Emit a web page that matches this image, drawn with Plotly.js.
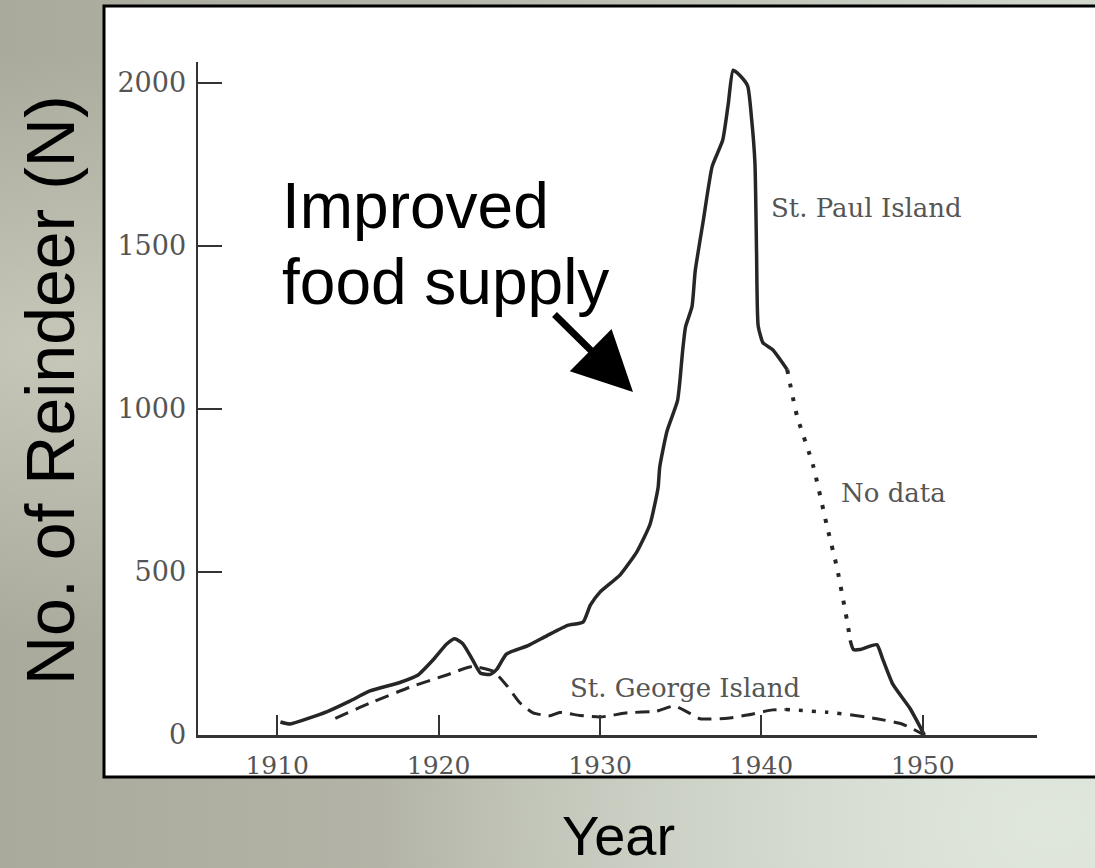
<!DOCTYPE html>
<html>
<head>
<meta charset="utf-8">
<script src="https://cdn.plot.ly/plotly-3.0.1.min.js"></script>
<style>
  html, body { margin: 0; padding: 0; }
  body {
    width: 1095px; height: 868px; overflow: hidden;
    background:
      radial-gradient(ellipse at 95% 95%, rgba(225,232,222,0.9) 0%, rgba(225,232,222,0) 45%),
      radial-gradient(ellipse at 5% 40%, rgba(205,205,192,0.8) 0%, rgba(205,205,192,0) 40%),
      linear-gradient(to right, #a9aa9c 0%, #b3b4a7 35%, #c3c7bb 70%, #d3d9cf 100%);
  }
  #chart { width: 1095px; height: 868px; }
</style>
</head>
<body>
<div id="chart"></div>
<script>
// ---- data ----
const stPaulYears = [1910.2, 1910.8, 1913.1, 1914.5, 1915.75, 1917.6, 1918.7, 1919.65, 1920.5, 1921.0, 1921.5, 1922.1, 1922.6, 1923.2, 1923.6, 1924.2, 1925.5, 1926.7, 1928.0, 1928.95, 1929.4, 1930.0, 1931.25, 1932.3, 1933.1, 1933.6, 1933.7, 1934.15, 1934.8, 1934.95, 1935.1, 1935.3, 1935.7, 1935.9, 1936.4, 1936.95, 1937.6, 1937.95, 1938.25, 1938.7, 1939.15, 1939.4, 1939.6, 1939.7, 1939.8, 1940.1, 1940.7, 1941.6];
const stPaulCounts = [40, 34, 72, 104, 135, 161, 183, 230, 279, 295, 280, 231, 189, 186, 201, 248, 273, 304, 336, 346, 398, 438, 491, 563, 646, 759, 821, 931, 1024, 1085, 1168, 1251, 1313, 1423, 1577, 1743, 1823, 1936, 2038, 2020, 1989, 1885, 1753, 1478, 1254, 1202, 1181, 1120];

const stPaulNoDataYears = [1941.6, 1942.2, 1943.2, 1944.05, 1944.7, 1945.35, 1945.5];
const stPaulNoDataCounts = [1120, 979, 827, 643, 509, 338, 290];

const stPaulLateYears = [1945.5, 1945.7, 1946.1, 1947.15, 1947.5, 1948.15, 1949.2, 1950.1];
const stPaulLateCounts = [290, 262, 262, 277, 235, 155, 82, 0];

const stGeorgeYears = [1913.6, 1915.75, 1918.2, 1920.5, 1922.1, 1923.4, 1924.25, 1925.05, 1925.85, 1926.9, 1927.5, 1928.75, 1930.0, 1931.7, 1933.5, 1934.6, 1935.4, 1936.2, 1937.9, 1939.1, 1940.7, 1941.5];
const stGeorgeCounts = [51, 98, 146, 184, 210, 195, 150, 98, 68, 59, 69, 60, 55, 68, 73, 89, 71, 50, 51, 61, 77, 78];

const stGeorgeNoDataYears = [1941.5, 1944.05, 1945.5];
const stGeorgeNoDataCounts = [78, 70, 62];

const stGeorgeLateYears = [1945.5, 1947.15, 1948.75, 1950.1];
const stGeorgeLateCounts = [62, 50, 33, 0];

const xTickYears = [1910, 1920, 1930, 1940, 1950];
const xTickLabels = ["1910", "1920", "1930", "1940", "1950"];
const yTickValues = [0, 500, 1000, 1500, 2000];
const yTickLabels = ["0", "500", "1000", "1500", "2000"];

// ---- layout geometry (pixels) ----
const L = 198, R = 1037, T = 62, B = 735;
const W = R - L, H = B - T;
const px = v => (v - L) / W;
const py = v => (B - v) / H;

const ink = '#262626';
const serif = 'DejaVu Serif, serif';
const sans = 'Liberation Sans, Arial, sans-serif';

function line(x, y, dash, width) {
  return {
    x: x, y: y, type: 'scatter', mode: 'lines', hoverinfo: 'skip',
    line: { color: ink, width: width, dash: dash, shape: 'spline', smoothing: 0.5 }
  };
}

const traces = [
  line(stPaulYears, stPaulCounts, 'solid', 3.5),
  line(stPaulNoDataYears, stPaulNoDataCounts, '4px,10px', 4),
  line(stPaulLateYears, stPaulLateCounts, 'solid', 3.5),
  line(stGeorgeYears, stGeorgeCounts, '14px,8px', 3),
  line(stGeorgeNoDataYears, stGeorgeNoDataCounts, '4px,9px', 3.5),
  line(stGeorgeLateYears, stGeorgeLateCounts, '14px,8px', 3)
];

const layout = {
  width: 1095, height: 868,
  margin: { l: L, r: 1095 - R, t: T, b: 868 - B, pad: 0 },
  paper_bgcolor: 'rgba(0,0,0,0)',
  plot_bgcolor: 'rgba(0,0,0,0)',
  showlegend: false,
  xaxis: {
    range: [1905.093, 1957.075],
    tickvals: xTickYears, ticktext: xTickLabels,
    ticks: 'inside', ticklen: 20, tickwidth: 2, tickcolor: '#333',
    showline: true, linecolor: '#333', linewidth: 2.5,
    showgrid: false, zeroline: false,
    ticklabelstandoff: 6,
    tickfont: { family: serif, size: 25, color: '#555' },
    fixedrange: true
  },
  yaxis: {
    range: [0, 2063],
    tickvals: yTickValues, ticktext: yTickLabels,
    ticks: 'inside', ticklen: 24, tickwidth: 2, tickcolor: '#333',
    showline: true, linecolor: '#333', linewidth: 2.5,
    showgrid: false, zeroline: false,
    ticklabelstandoff: 4,
    tickfont: { family: serif, size: 27, color: '#555' },
    fixedrange: true
  },
  shapes: [
    {
      type: 'rect', xref: 'paper', yref: 'paper', layer: 'below',
      x0: px(104), x1: px(1110), y0: py(777), y1: py(6),
      fillcolor: '#ffffff', line: { color: '#000', width: 3 }
    }
  ],
  annotations: [
    { text: 'No. of Reindeer (N)', xref: 'paper', yref: 'paper', x: px(50), y: py(390),
      textangle: -90, showarrow: false, xanchor: 'center', yanchor: 'middle',
      font: { family: sans, size: 68, color: '#000' } },
    { text: 'Year', xref: 'paper', yref: 'paper', x: px(618), y: py(836),
      showarrow: false, xanchor: 'center', yanchor: 'middle',
      font: { family: sans, size: 56, color: '#000' } },
    { text: 'Improved', xref: 'paper', yref: 'paper', x: px(280), y: py(206),
      showarrow: false, xanchor: 'left', yanchor: 'middle',
      font: { family: sans, size: 64, color: '#000' } },
    { text: 'food supply', xref: 'paper', yref: 'paper', x: px(280), y: py(282),
      showarrow: false, xanchor: 'left', yanchor: 'middle',
      font: { family: sans, size: 64, color: '#000' } },
    { text: '', xref: 'paper', yref: 'paper', x: px(633), y: py(392),
      showarrow: true, ax: -80, ay: -79, arrowhead: 2, arrowsize: 1.7, arrowwidth: 7,
      arrowcolor: '#000', standoff: 0, startstandoff: 0 },
    { text: 'St. Paul Island', xref: 'paper', yref: 'paper', x: px(866), y: py(208),
      showarrow: false, xanchor: 'center', yanchor: 'middle',
      font: { family: serif, size: 26, color: '#555' } },
    { text: 'No data', xref: 'paper', yref: 'paper', x: px(893), y: py(493),
      showarrow: false, xanchor: 'center', yanchor: 'middle',
      font: { family: serif, size: 26, color: '#555' } },
    { text: 'St. George Island', xref: 'paper', yref: 'paper', x: px(685), y: py(688),
      showarrow: false, xanchor: 'center', yanchor: 'middle',
      font: { family: serif, size: 26, color: '#555' } }
  ]
};

Plotly.newPlot('chart', traces, layout, { displayModeBar: false, staticPlot: true });
</script>
</body>
</html>
